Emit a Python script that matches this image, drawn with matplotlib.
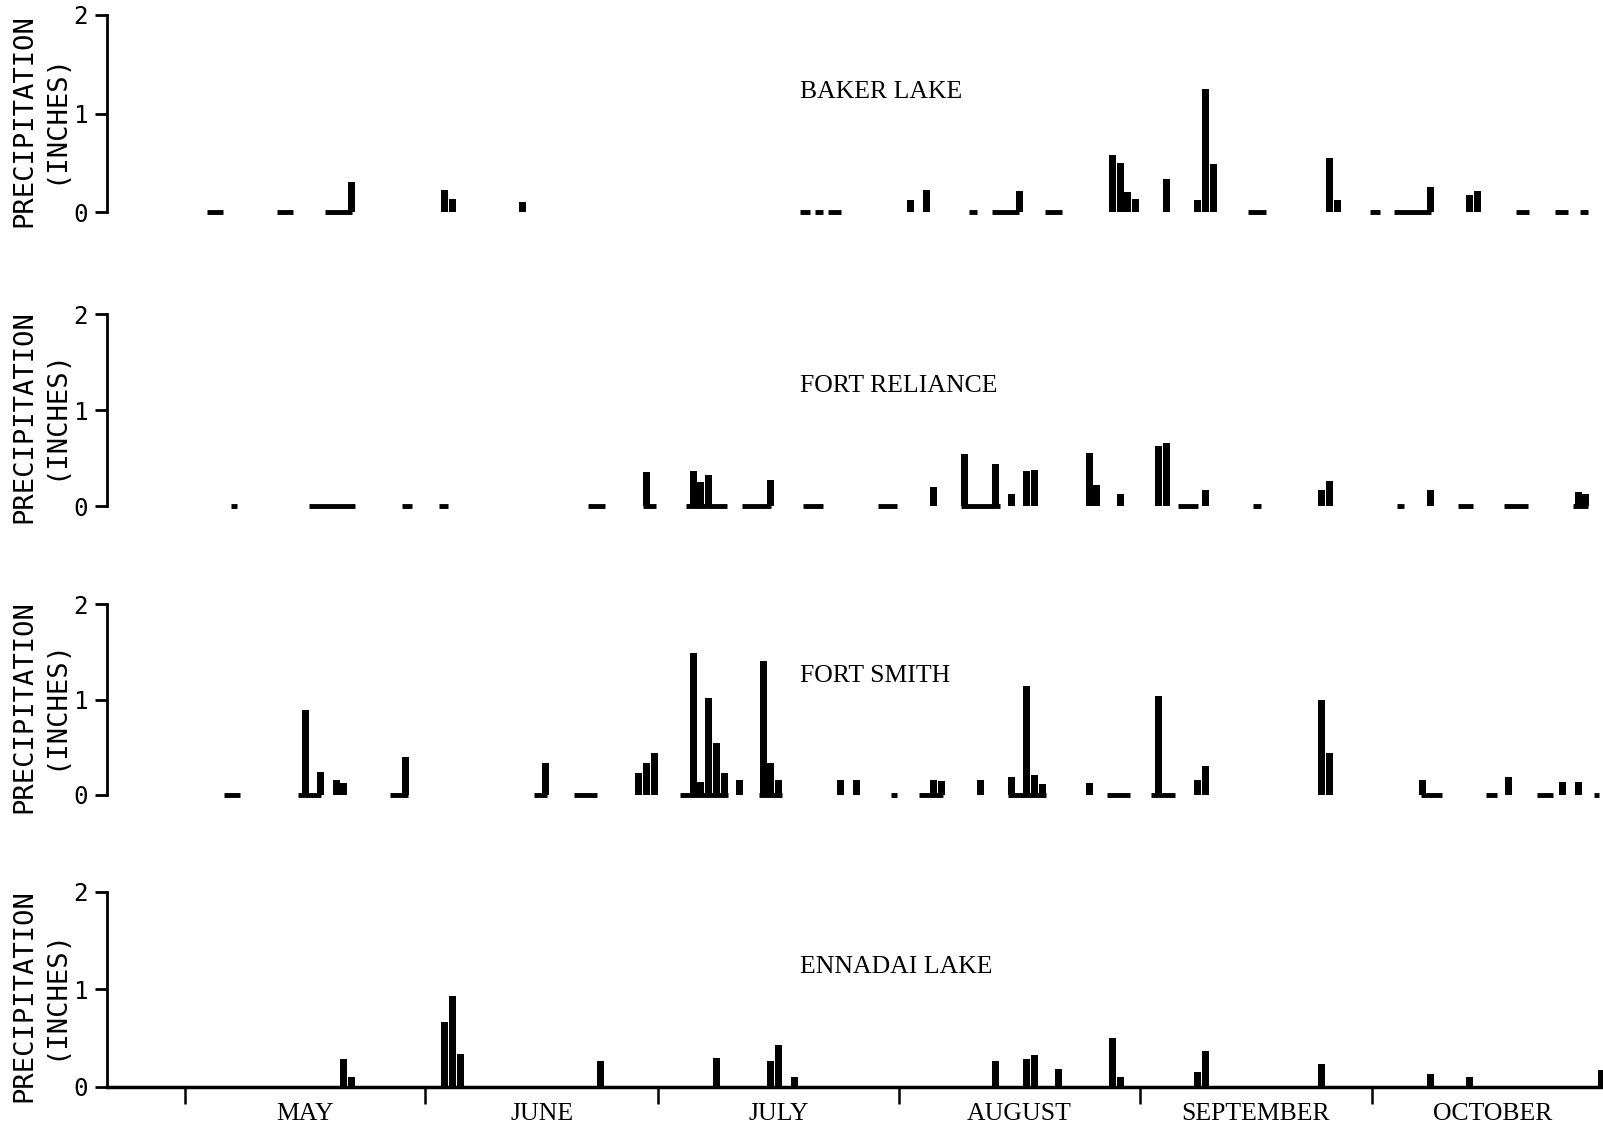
import numpy as np
import matplotlib
matplotlib.use("Agg")
import matplotlib.pyplot as plt
from matplotlib.transforms import blended_transform_factory

# ---- data: day of season (1 = May 1) and daily precipitation (inches) ----
stations = ["BAKER LAKE", "FORT RELIANCE", "FORT SMITH", "ENNADAI LAKE"]

baker_days = [22, 34, 35, 44, 94, 96, 108, 120, 121, 122, 123, 127, 131, 132, 133,
              148, 149, 161, 166, 167]
baker_precip = [0.30, 0.22, 0.13, 0.10, 0.12, 0.22, 0.21, 0.58, 0.50, 0.20, 0.13, 0.34,
                0.12, 1.25, 0.49, 0.55, 0.12, 0.25, 0.17, 0.21]

reliance_days = [60, 66, 67, 68, 76, 97, 101, 105, 107, 109, 110, 117, 118, 121, 126,
                 127, 132, 147, 148, 161, 180, 181]
reliance_precip = [0.35, 0.36, 0.25, 0.32, 0.27, 0.20, 0.54, 0.44, 0.13, 0.36, 0.375,
                   0.555, 0.22, 0.125, 0.62, 0.66, 0.17, 0.17, 0.26, 0.17, 0.15, 0.12]

smith_days = [16, 18, 20, 21, 29, 47, 59, 60, 61, 66, 67, 68, 69, 70, 72, 75, 76, 77,
              85, 87, 97, 98, 103, 107, 109, 110, 111, 117, 126, 131, 132, 147, 148,
              160, 171, 178, 180]
smith_precip = [0.89, 0.24, 0.16, 0.13, 0.395, 0.34, 0.23, 0.33, 0.44, 1.49, 0.14, 1.02,
                0.54, 0.23, 0.16, 1.40, 0.34, 0.16, 0.16, 0.16, 0.16, 0.15, 0.16, 0.19,
                1.14, 0.21, 0.12, 0.13, 1.04, 0.16, 0.30, 0.99, 0.44, 0.16, 0.19, 0.14,
                0.14]

ennadai_days = [21, 22, 34, 35, 36, 54, 69, 76, 77, 79, 105, 109, 110, 113, 120, 121,
                131, 132, 147, 161, 166, 183]
ennadai_precip = [0.28, 0.10, 0.66, 0.93, 0.34, 0.26, 0.29, 0.26, 0.43, 0.10, 0.26, 0.28,
                  0.33, 0.18, 0.50, 0.10, 0.15, 0.37, 0.23, 0.13, 0.10, 0.17]

# trace periods drawn along the zero line (days after April 30)
baker_trace_start = [2.9, 11.9, 18.1, 79.3, 81.2, 82.9, 101.0, 104.0, 110.8, 137.0,
                     152.7, 155.8, 171.5, 176.5, 179.8]
baker_trace_end = [4.9, 13.9, 21.5, 80.6, 82.2, 84.6, 102.0, 107.5, 113.0, 139.3,
                   154.0, 160.5, 173.2, 178.2, 180.8]

reliance_trace_start = [6.0, 16.0, 28.0, 32.7, 51.9, 59.0, 64.6, 71.8, 79.6, 89.3,
                        100.0, 128.0, 137.6, 156.1, 164.0, 170.0, 178.8]
reliance_trace_end = [6.8, 21.9, 29.3, 33.9, 54.1, 60.7, 69.9, 75.5, 82.2, 91.8,
                      105.0, 130.5, 138.6, 157.1, 166.0, 173.0, 180.8]

smith_trace_start = [5.1, 14.6, 26.5, 45.0, 50.1, 63.8, 74.0, 91.0, 94.6, 106.0, 118.8,
                     124.5, 159.2, 167.6, 174.2, 181.6]
smith_trace_end = [7.1, 17.5, 28.8, 46.7, 53.1, 70.0, 77.0, 91.8, 97.7, 111.0, 121.8,
                   127.6, 162.0, 169.0, 176.2, 182.2]

ennadai_trace_start = []
ennadai_trace_end = []

months = ["MAY", "JUNE", "JULY", "AUGUST", "SEPTEMBER", "OCTOBER"]
month_lengths = [31, 30, 31, 31, 30, 31]

all_days = [baker_days, reliance_days, smith_days, ennadai_days]
all_precip = [baker_precip, reliance_precip, smith_precip, ennadai_precip]
all_trace = [(baker_trace_start, baker_trace_end),
             (reliance_trace_start, reliance_trace_end),
             (smith_trace_start, smith_trace_end),
             (ennadai_trace_start, ennadai_trace_end)]

# ---- layout (pixel rows of the 0 and 2 inch ticks in a 1603x1128 image) ----
W, H = 1603, 1128
panel_rows = [(212, 15), (506, 314), (795, 604), (1086.7, 891.7)]
label_y = [1.155, 1.19, 1.186, 1.163]
x_left_px = 107
x0_px, px_per_day = 184.7, 7.763

fig = plt.figure(figsize=(W / 100, H / 100), dpi=100)
fig.patch.set_facecolor("white")

xmin = (x_left_px - x0_px) / px_per_day
xmax = (W - x0_px) / px_per_day

for i, name in enumerate(stations):
    y0, y2 = panel_rows[i]
    unit = (y0 - y2) / 2 / H
    bottom = 1 - y0 / H - 0.1 * unit
    ax = fig.add_axes([x_left_px / W, bottom, 1 - x_left_px / W, 2.2 * unit])
    ax.set_xlim(xmin, xmax)
    ax.set_ylim(-0.1, 2.1)
    ax.patch.set_alpha(0)

    # daily precipitation bars
    x = np.array(all_days[i]) - 0.5
    ax.bar(x, all_precip[i], width=0.9, color="black", linewidth=0)

    # trace lines on the zero axis
    starts, ends = all_trace[i]
    if starts:
        ax.hlines(np.zeros(len(starts)), starts, ends, colors="black", linewidth=3.5)

    # y axis
    for s in ["top", "right"]:
        ax.spines[s].set_visible(False)
    ax.spines["left"].set_bounds(0, 2)
    ax.spines["left"].set_linewidth(2)
    ax.set_yticks([0, 1, 2])
    ax.set_yticklabels(["0", "1", "2"], family="DejaVu Sans Mono", fontsize=17.5)
    ax.tick_params(axis="y", direction="out", length=9, width=2, pad=5)

    # two-line axis title
    tr = blended_transform_factory(fig.transFigure, ax.transData)
    ax.text(24 / W, 0.93, "PRECIPITATION", transform=tr, rotation=90,
            ha="center", va="center", family="DejaVu Sans Mono", fontsize=19.5)
    ax.text(55 / W, 0.95, "(INCHES)", transform=tr, rotation=90,
            ha="center", va="center", family="DejaVu Sans Mono", fontsize=19.5)

    # station name
    ax.text(79.3, label_y[i], name, ha="left", va="baseline",
            family="Liberation Serif", fontsize=18.5)

    if i < 3:
        ax.spines["bottom"].set_visible(False)
        ax.set_xticks([])
    else:
        # month boundaries as ticks, month names centred between them
        edges = np.concatenate([[0], np.cumsum(month_lengths)])
        ax.spines["bottom"].set_position(("data", 0))
        ax.spines["bottom"].set_linewidth(2.5)
        ax.set_xticks(edges[:-1])
        ax.set_xticklabels([])
        ax.tick_params(axis="x", which="major", direction="out", length=12, width=1.8)
        ax.set_xticks((edges[:-1] + edges[1:]) / 2, minor=True)
        ax.set_xticklabels(months, minor=True, family="Liberation Serif", fontsize=18.5)
        ax.tick_params(axis="x", which="minor", length=0, pad=12)

fig.savefig("out.png", dpi=100, facecolor="white")
